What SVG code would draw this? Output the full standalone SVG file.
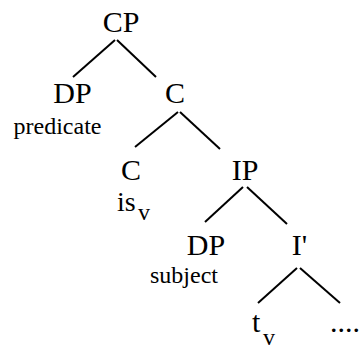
<svg xmlns="http://www.w3.org/2000/svg" width="360" height="350" viewBox="0 0 360 350">
<style>
text{font-family:"Liberation Serif","Times New Roman",serif;fill:#000}
.n{font-size:30px;text-anchor:middle}
.s{font-size:24px;text-anchor:middle}
.sub{font-size:24px}
.e line{stroke:#000;stroke-width:2}
</style>
<rect width="360" height="350" fill="#fff"/>
<g class="e" id="connectors">
<line x1="115" y1="40" x2="73" y2="77"/>
<line x1="117" y1="40" x2="156" y2="77"/>
<line x1="178" y1="112" x2="135" y2="147"/>
<line x1="180" y1="112" x2="220" y2="149"/>
<line x1="243" y1="187" x2="205" y2="222"/>
<line x1="247" y1="187" x2="287" y2="224"/>
<line x1="297" y1="268" x2="258" y2="303"/>
<line x1="300" y1="268" x2="340" y2="303"/>
</g>
<g id="CP"><text class="n" x="121" y="32">CP</text></g>
<g id="DP1"><text class="n" x="72.5" y="103">DP</text><text class="s" x="57.5" y="134">predicate</text></g>
<g id="C1"><text class="n" x="175" y="103">C</text></g>
<g id="C2"><text class="n" x="131" y="180">C</text><text x="117" y="211" font-size="28">is</text><text class="sub" x="138" y="220">v</text></g>
<g id="IP"><text class="n" x="245" y="180">IP</text></g>
<g id="DP2"><text class="n" x="206" y="255">DP</text><text class="s" x="184" y="283">subject</text></g>
<g id="Ibar"><text class="n" x="299.5" y="255">I'</text></g>
<g id="t"><text x="252" y="332" font-size="30">t</text><text class="sub" x="263" y="345">v</text></g>
<g id="dots"><text x="330" y="332" font-size="30">....</text></g>
</svg>
